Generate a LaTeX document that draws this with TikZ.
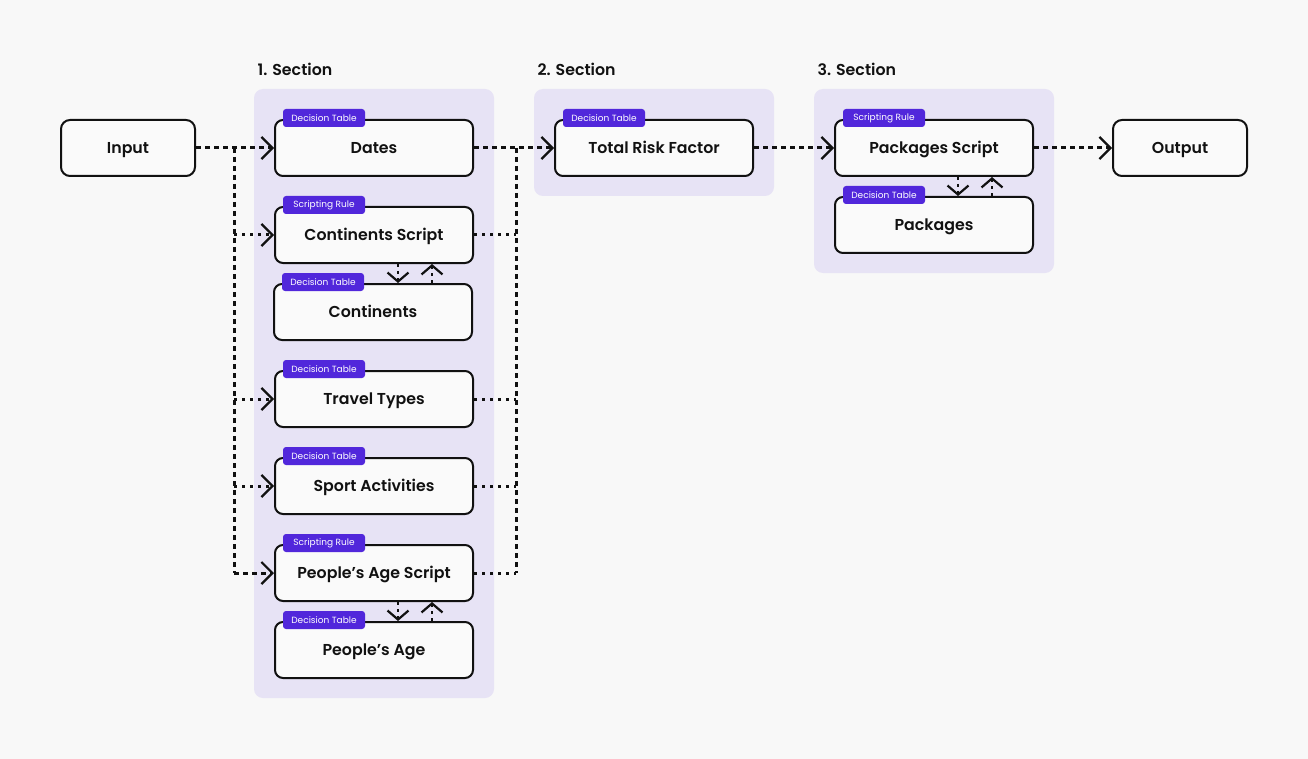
\documentclass[tikz,border=0pt]{standalone}
\usepackage{fontspec}
\setmainfont{Poppins}[BoldFont={Poppins SemiBold}]
\usetikzlibrary{arrows.meta}
\definecolor{bg}{HTML}{F8F8F8}
\definecolor{panel}{HTML}{E7E3F5}
\definecolor{tagc}{HTML}{5127DB}
\definecolor{ink}{HTML}{111111}
\definecolor{boxfill}{HTML}{FAFAFA}
\begin{document}
\begin{tikzpicture}[x=1pt,y=-1pt,
  box/.style={draw=ink, line width=2pt, fill=boxfill, rounded corners=8pt,
    minimum width=198pt, minimum height=56pt, inner sep=0pt,
    text height=14pt, text depth=2.5pt,
    font=\bfseries\fontsize{15.8}{16}\selectfont, text=ink},
  endbox/.style={box, minimum width=134pt, rounded corners=9pt},
  tag/.style={fill=tagc, rounded corners=3pt, minimum width=82pt, minimum height=18pt,
    inner sep=0pt, text=white, font=\fontsize{9}{9}\selectfont},
  panelbox/.style={fill=panel, rounded corners=9pt},
  sect/.style={anchor=base west, font=\bfseries\fontsize{15.8}{16}\selectfont, text=ink},
  bigtip/.style={-{Straight Barb[length=11pt,width=22pt,line width=2.2pt]}},
  smalltip/.style={-{Straight Barb[length=9pt,width=21pt,line width=2.2pt]}},
  dashl/.style={draw=ink, line width=3pt, dash pattern=on 5pt off 4pt},
  dotl/.style={draw=ink, line width=3pt, dash pattern=on 3pt off 5pt},
  sdot/.style={draw=ink, line width=2.5pt, dash pattern=on 3pt off 4pt},
]
\fill[bg] (0,0) rectangle (1308,759);
\useasboundingbox (0,0) rectangle (1308,759);

% panels
\fill[panelbox] (254,89) rectangle (494,698);
\fill[panelbox] (534,89) rectangle (774,196);
\fill[panelbox] (814,89) rectangle (1054,273);
\node[sect] (s1) at (254,76) {1. Section};
\node[sect] (s2) at (534,76) {2. Section};
\node[sect] (s3) at (814,76) {3. Section};

% boxes
\node[endbox] (input) at (128,148) {Input};
\node[endbox] (output) at (1180,148) {Output};
\node[box] (dates) at (374,148) {Dates};
\node[box] (cs) at (374,235) {Continents Script};
\node[box] (cont) at (373,312) {Continents};
\node[box] (tt) at (374,399) {Travel Types};
\node[box] (sa) at (374,486) {Sport Activities};
\node[box] (pas) at (374,573) {People’s Age Script};
\node[box] (pa) at (374,650) {People’s Age};
\node[box] (trf) at (654,148) {Total Risk Factor};
\node[box] (ps) at (934,148) {Packages Script};
\node[box] (pk) at (934,225) {Packages};

% tags
\node[tag] (tdates) at ([xshift=50pt,yshift=1pt]dates.north west) {Decision Table};
\node[tag] (tcs) at ([xshift=50pt,yshift=1pt]cs.north west) {Scripting Rule};
\node[tag] (tcont) at ([xshift=50pt,yshift=1pt]cont.north west) {Decision Table};
\node[tag] (ttt) at ([xshift=50pt,yshift=1pt]tt.north west) {Decision Table};
\node[tag] (tsa) at ([xshift=50pt,yshift=1pt]sa.north west) {Decision Table};
\node[tag] (tpas) at ([xshift=50pt,yshift=1pt]pas.north west) {Scripting Rule};
\node[tag] (tpa) at ([xshift=50pt,yshift=1pt]pa.north west) {Decision Table};
\node[tag] (ttrf) at ([xshift=50pt,yshift=1pt]trf.north west) {Decision Table};
\node[tag] (tps) at ([xshift=50pt,yshift=1pt]ps.north west) {Scripting Rule};
\node[tag] (tpk) at ([xshift=50pt,yshift=1pt]pk.north west) {Decision Table};

% junction coordinates
\coordinate (jl1) at (234,148);
\coordinate (jl2) at (234,573);
\coordinate (jr1) at (516,148);
\coordinate (jr2) at (516,573);

% main line
\draw[dashl, bigtip] (input.east) -- (dates.west);
\draw[dashl, bigtip] (dates.east) -- (trf.west);
\draw[dashl, bigtip] (trf.east) -- (ps.west);
\draw[dashl, bigtip] (ps.east) -- (output.west);

% left distribution
\draw[dashl] (jl1) -- (jl2);
\draw[dotl, bigtip] (jl1 |- cs.west) -- (cs.west);
\draw[dotl, bigtip] (jl1 |- tt.west) -- (tt.west);
\draw[dotl, bigtip] (jl1 |- sa.west) -- (sa.west);
\draw[dashl, bigtip] (jl2) -- (pas.west);

% right collection
\draw[dashl] (jr1) -- (jr2);
\draw[dotl] (cs.east) -- (jr1 |- cs.east);
\draw[dotl] (tt.east) -- (jr1 |- tt.east);
\draw[dotl] (sa.east) -- (jr1 |- sa.east);
\draw[dotl] (pas.east) -- (jr2);

% script <-> table pairs
\draw[sdot, smalltip] ([xshift=24pt]cs.south) -- ([xshift=25pt]cont.north);
\draw[sdot, smalltip] ([xshift=59pt]cont.north) -- ([xshift=58pt]cs.south);
\draw[sdot, smalltip] ([xshift=24pt]pas.south) -- ([xshift=24pt]pa.north);
\draw[sdot, smalltip] ([xshift=58pt]pa.north) -- ([xshift=58pt]pas.south);
\draw[sdot, smalltip] ([xshift=24pt]ps.south) -- ([xshift=24pt]pk.north);
\draw[sdot, smalltip] ([xshift=58pt]pk.north) -- ([xshift=58pt]ps.south);
\end{tikzpicture}
\end{document}
